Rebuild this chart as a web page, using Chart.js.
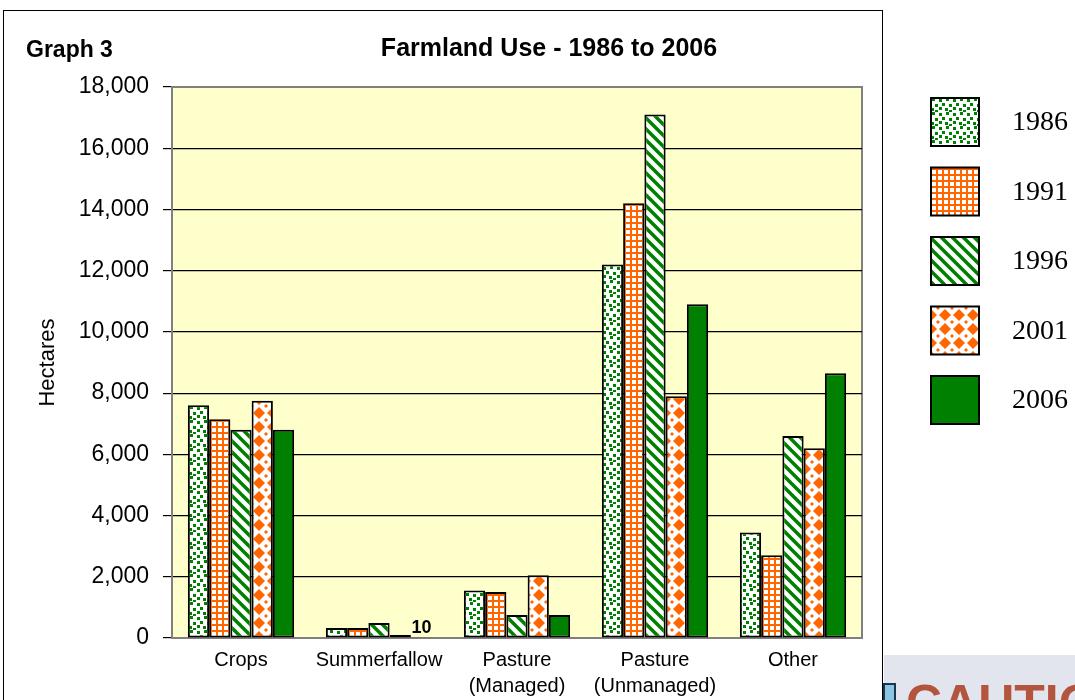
<!DOCTYPE html>
<html>
<head>
<meta charset="utf-8">
<script src="https://cdn.jsdelivr.net/npm/chart.js@4/dist/chart.umd.min.js"></script>
<style>
  body { margin: 0; background: #fff; }
  canvas { display: block; }
</style>
</head>
<body>
<canvas id="farmland" width="1075" height="700"></canvas>
<script>
// Farmland use by category, hectares
var categories = ['Crops', 'Summerfallow', ['Pasture', '(Managed)'], ['Pasture', '(Unmanaged)'], 'Other'];
var years = ['1986', '1991', '1996', '2001', '2006'];
var ha1986 = [7600, 330, 1550, 12200, 3450];
var ha1991 = [7150, 330, 1500, 14200, 2700];
var ha1996 = [6800, 490, 750, 17100, 6600];
var ha2001 = [7750, 100, 2050, 7900, 6200];
var ha2006 = [6800, 10, 750, 10900, 8650];
var yTicks = [0, 2000, 4000, 6000, 8000, 10000, 12000, 14000, 16000, 18000];

var GREEN = '#008000';
var ORANGE = '#FF6600';

function tile(size, draw) {
	var c = document.createElement('canvas');
	c.width = size; c.height = size;
	var g = c.getContext('2d');
	g.fillStyle = '#fff';
	g.fillRect(0, 0, size, size);
	draw(g, size);
	return document.getElementById('farmland').getContext('2d').createPattern(c, 'repeat');
}

var dots = tile(14, function(g) {
	g.fillStyle = GREEN;
	[[1,1],[8,0],[4,5],[11,6],[1,9],[7,10],[11,12]].forEach(function(p) {
		g.fillRect(p[0], p[1], 3, 3);
	});
});
var grid = tile(6, function(g) {
	g.fillStyle = ORANGE;
	g.fillRect(0, 0, 6, 2);
	g.fillRect(0, 0, 2, 6);
});
var stripes = tile(11, function(g, s) {
	g.strokeStyle = GREEN;
	g.lineWidth = 3.5;
	[-s, 0, s].forEach(function(c) {
		g.beginPath();
		g.moveTo(-2, -2 + c);
		g.lineTo(s + 2, s + 2 + c);
		g.stroke();
	});
});
var diamonds = tile(14, function(g) {
	g.fillStyle = ORANGE;
	function dia(x, y, r) {
		g.beginPath();
		g.moveTo(x, y - r); g.lineTo(x + r, y); g.lineTo(x, y + r); g.lineTo(x - r, y);
		g.closePath(); g.fill();
	}
	dia(7, 7, 6);
	[[0,0],[14,0],[0,14],[14,14]].forEach(function(p) { dia(p[0], p[1], 2); });
});

var fills = [dots, grid, stripes, diamonds, GREEN];
var series = [ha1986, ha1991, ha1996, ha2001, ha2006];

var datasets = [];
for (var i in years) {
	datasets.push({
		label: years[i],
		data: series[i],
		backgroundColor: fills[i],
		borderColor: '#000',
		borderWidth: 2,
		borderSkipped: false,
		categoryPercentage: 0.77,
		barPercentage: 1.0
	});
}

var decor = {
	id: 'decor',
	beforeDraw: function(chart) {
		var ctx = chart.ctx, a = chart.chartArea;
		ctx.save();
		ctx.fillStyle = '#FFFFCC';
		ctx.fillRect(a.left, a.top, a.right - a.left, a.bottom - a.top);
		ctx.strokeStyle = '#808080';
		ctx.lineWidth = 2;
		ctx.strokeRect(a.left, a.top, a.right - a.left, a.bottom - a.top);
		ctx.restore();
	},
	afterDraw: function(chart) {
		var ctx = chart.ctx;
		ctx.save();
		// outer frame
		ctx.strokeStyle = '#000';
		ctx.lineWidth = 1;
		ctx.strokeRect(3.5, 10.5, 879, 720);

		// titles
		ctx.fillStyle = '#000';
		ctx.textBaseline = 'alphabetic';
		ctx.font = 'bold 23px "Liberation Sans", Arial, sans-serif';
		ctx.textAlign = 'left';
		ctx.fillText('Graph 3', 26, 57);
		ctx.font = 'bold 25px "Liberation Sans", Arial, sans-serif';
		ctx.textAlign = 'center';
		ctx.fillText('Farmland Use - 1986 to 2006', 549, 56);

		// label for bars too small to see
		ctx.font = 'bold 18px "Liberation Sans", Arial, sans-serif';
		ctx.textBaseline = 'bottom';
		chart.data.datasets.forEach(function(ds, d) {
			var meta = chart.getDatasetMeta(d);
			ds.data.forEach(function(v, k) {
				if (v < 50) {
					var bar = meta.data[k];
					ctx.fillText(String(v), bar.x, bar.y - 1);
				}
			});
		});

		// legend
		ctx.textAlign = 'left';
		ctx.textBaseline = 'middle';
		ctx.font = '28px "Liberation Serif", "Times New Roman", serif';
		chart.data.datasets.forEach(function(ds, d) {
			var x = 931, y = 98 + d * 69.5;
			ctx.fillStyle = ds.backgroundColor;
			ctx.fillRect(x, y, 48, 48);
			ctx.strokeStyle = '#000';
			ctx.lineWidth = 2;
			ctx.strokeRect(x, y, 48, 48);
			ctx.fillStyle = '#000';
			ctx.fillText(ds.label, 1012, y + 25);
		});

		// clipped picture below the legend
		ctx.fillStyle = '#E3E5EE';
		ctx.fillRect(884, 655, 191, 45);
		ctx.fillStyle = '#8CC4E4';
		ctx.fillRect(884, 684, 11, 16);
		ctx.strokeStyle = '#1a3550';
		ctx.lineWidth = 2;
		ctx.strokeRect(884, 684, 11, 20);
		ctx.fillStyle = '#B3553C';
		ctx.font = 'bold 50px "Liberation Sans", Arial, sans-serif';
		ctx.textBaseline = 'alphabetic';
		ctx.fillText('CAUTION', 906, 720);
		ctx.restore();
	}
};

var ctx1 = document.getElementById('farmland');
var chart1 = new Chart(ctx1, {
	type: 'bar',
	data: { labels: categories, datasets: datasets },
	plugins: [decor],
	options: {
		responsive: false,
		animation: false,
		devicePixelRatio: 1,
		layout: { padding: { top: 87, right: 213, left: 0, bottom: 0 } },
		plugins: {
			legend: { display: false },
			title: { display: false },
			tooltip: { enabled: false }
		},
		scales: {
			x: {
				grid: { display: false, drawTicks: false },
				border: { color: '#808080', width: 2 },
				ticks: {
					color: '#000',
					padding: 10,
					maxRotation: 0,
					font: { family: '"Liberation Sans", Arial, sans-serif', size: 20, lineHeight: 1.28 }
				},
				afterFit: function(scale) { scale.height = 62; }
			},
			y: {
				min: 0,
				max: 18000,
				afterBuildTicks: function(scale) {
					scale.ticks = yTicks.map(function(v) { return { value: v }; });
				},
				grid: {
					color: function(c) {
						return (c.tick && (c.tick.value === 0 || c.tick.value === 18000)) ? '#808080' : '#000';
					},
					lineWidth: 1.2,
					tickColor: '#000',
					tickLength: 9
				},
				border: { color: '#808080', width: 2 },
				ticks: {
					color: '#000',
					padding: 14,
					font: { family: '"Liberation Sans", Arial, sans-serif', size: 23 },
					callback: function(v) { return Number(v).toLocaleString('en-US'); }
				},
				title: {
					display: true,
					text: 'Hectares',
					color: '#000',
					padding: { top: 35, bottom: 0 },
					font: { family: '"Liberation Sans", Arial, sans-serif', size: 22 }
				},
				afterFit: function(scale) { scale.width = 172; }
			}
		}
	}
});
</script>
</body>
</html>
